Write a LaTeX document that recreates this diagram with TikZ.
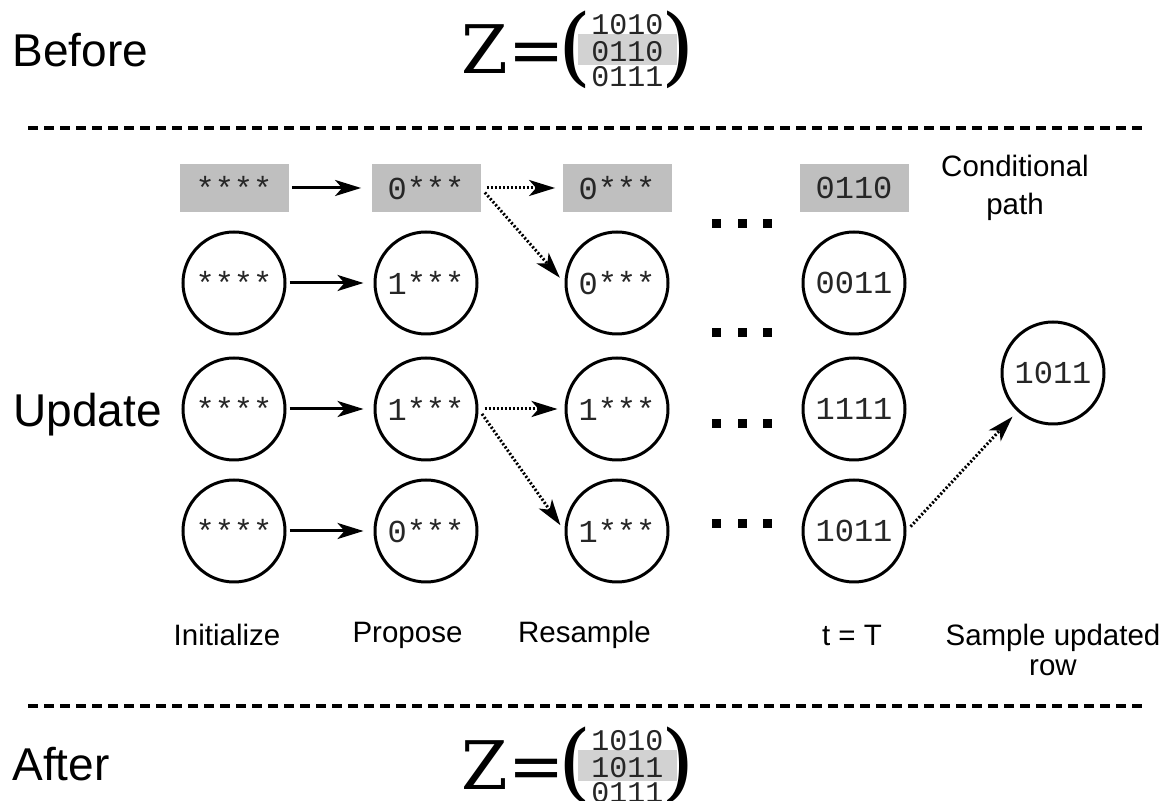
\documentclass[tikz,border=0pt]{standalone}
\usepackage{fontspec}
\setmainfont{Liberation Sans}
\newfontfamily\bitfont{Liberation Mono}
\newfontfamily\zfont{DejaVu Serif}
\usetikzlibrary{arrows.meta}
\begin{document}
\begin{tikzpicture}[x=0.5pt,y=-0.5pt,
	state/.style={circle,draw,line width=1.5pt,minimum size=51pt,inner sep=0pt,text=black!85,font=\bitfont\fontsize{16pt}{16pt}\selectfont},
	cond/.style={rectangle,fill=gray!50,minimum width=54.5pt,minimum height=24pt,inner sep=0pt,text=black!85,font=\bitfont\fontsize{16pt}{16pt}\selectfont},
	bits/.style={inner sep=0pt,text=black!85,font=\bitfont\fontsize{15pt}{15pt}\selectfont},
	zeq/.style={inner sep=0pt,anchor=base,font=\zfont\fontsize{33.5pt}{33.5pt}\selectfont},
	paren/.style={inner sep=0pt,font=\zfont\fontsize{42.5pt}{42.5pt}\selectfont},
	big/.style={inner sep=0pt,anchor=base,font=\fontsize{23pt}{23pt}\selectfont},
	lbl/.style={inner sep=0pt,anchor=base,font=\fontsize{14.75pt}{14.75pt}\selectfont},
	move/.style={line width=1.5pt,shorten <=1.5pt,shorten >=5pt,-{Stealth[length=13pt,width=8pt,inset=3.5pt]}},
	pick/.style={move,dash pattern=on 1pt off 1pt,shorten <=3pt,shorten >=3.5pt},
	sep/.style={line width=2pt,dash pattern=on 5pt off 3pt}]
	\useasboundingbox (0,0) rectangle (1174,801);
	% before
	\node[big] (before) at (80.5,67) {Before};
	\node[zeq] (zb) at (513,74) {Z=};
	\node[fill=gray!35,minimum width=49.5pt,minimum height=15.5pt,inner sep=0pt] (hb) at (627.5,49.5) {};
	\node[bits] (b1) at (627.5,24.5) {1010};
	\node[bits] (b2) at (627.5,51.5) {0110};
	\node[bits] (b3) at (627.5,77) {0111};
	\node[paren] (lb) at (575.5,50) {(};
	\node[paren] (rb) at (678,50) {)};
	\coordinate (sepTL) at (28,128);
	\coordinate (sepTR) at (1142,128);
	\draw[sep] (sepTL) -- (sepTR);
	% update
	\node[big] (update) at (87.5,427) {Update};
	\node[cond] (i1) at (234,188) {****};
	\node[cond] (p1) at (426,188) {0***};
	\node[cond] (r1) at (617,188) {0***};
	\node[cond] (t1) at (854,188) {0110};
	\node[state] (i2) at (234,283) {****};
	\node[state] (p2) at (426,283) {1***};
	\node[state] (r2) at (617,283) {0***};
	\node[state] (t2) at (854,283) {0011};
	\node[state] (i3) at (234,409) {****};
	\node[state] (p3) at (426,409) {1***};
	\node[state] (r3) at (617,409) {1***};
	\node[state] (t3) at (854,409) {1111};
	\node[state] (i4) at (234,531) {****};
	\node[state] (p4) at (426,531) {0***};
	\node[state] (r4) at (617,531) {1***};
	\node[state] (t4) at (854,531) {1011};
	\node[state] (samp) at (1053,373) {1011};
	\foreach \y in {224,333,424,524}
	\foreach \x in {716.5,742,767.5}
	\fill (\x-4.5,\y-4.5) rectangle +(9,9);
	\foreach \r in {1,...,4}
	\draw[move] (i\r) -- (p\r);
	\draw[pick] (p1) -- (r1);
	\draw[pick] (p1.east) -- (r2.west);
	\draw[pick] (p3) -- (r3);
	\draw[pick] (p3.east) -- (r4.west);
	\draw[pick] (t4.east) -- (samp);
	\node[lbl,align=center,anchor=center] (condp) at (1015,188) {Conditional\\[4pt]path};
	\node[lbl] (init) at (227,646) {Initialize};
	\node[lbl] (prop) at (407.5,643) {Propose};
	\node[lbl] (resa) at (584.5,643) {Resample};
	\node[lbl] (tT) at (852,646) {t = T};
	\node[lbl,align=center,anchor=center] (sampl) at (1053,650) {Sample updated\\row};
	\coordinate (sepBL) at (28,706);
	\coordinate (sepBR) at (1142,706);
	\draw[sep] (sepBL) -- (sepBR);
	% after
	\node[big] (after) at (61,781) {After};
	\node[zeq] (za) at (513,790) {Z=};
	\node[fill=gray!35,minimum width=49.5pt,minimum height=15.5pt,inner sep=0pt] (ha) at (627.5,765.5) {};
	\node[bits] (a1) at (627.5,740.5) {1010};
	\node[bits] (a2) at (627.5,767.5) {1011};
	\node[bits] (a3) at (627.5,793) {0111};
	\node[paren] (la) at (575.5,766) {(};
	\node[paren] (ra) at (678,766) {)};
\end{tikzpicture}
\end{document}
